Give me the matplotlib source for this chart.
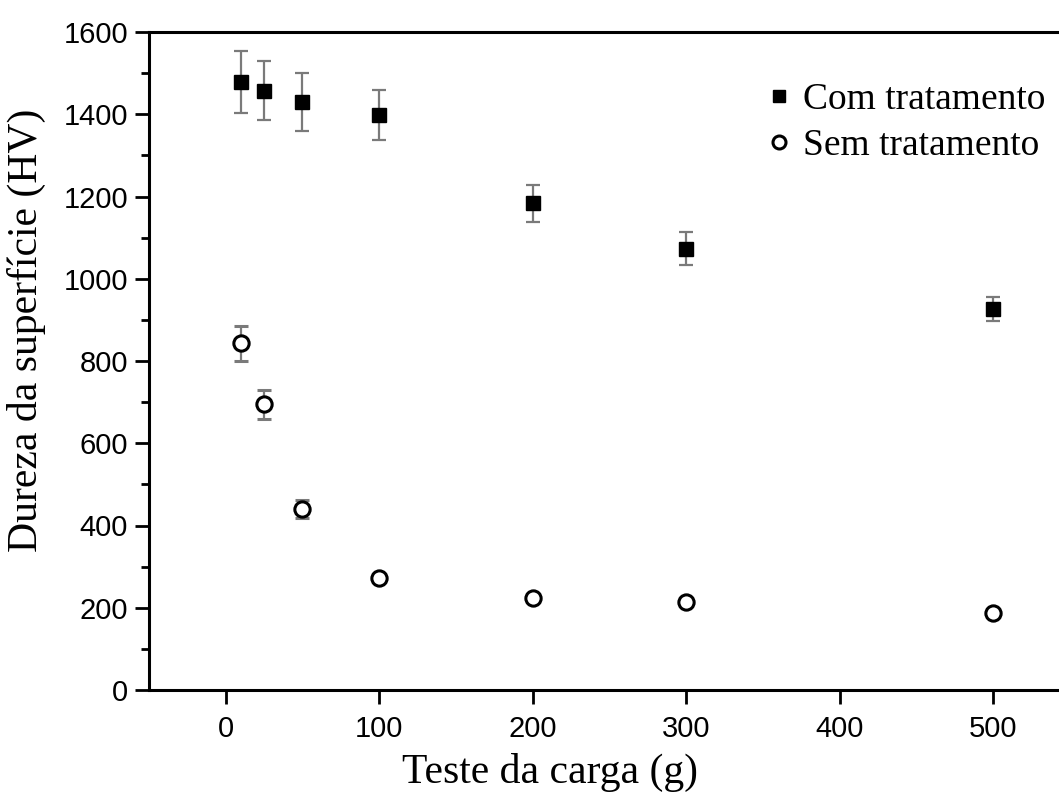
import matplotlib
matplotlib.use("Agg")
from matplotlib import pyplot as plt
from matplotlib.ticker import MultipleLocator

# load (g)
carga = [10, 25, 50, 100, 200, 300, 500]

# com tratamento
com_hv = [1479, 1457, 1430, 1398, 1183, 1073, 926]
com_err = [75, 72, 71, 61, 44, 40, 29]

# sem tratamento
sem_hv = [843, 695, 440, 273, 224, 213, 188]
sem_err = [42, 35, 22, 6, 5, 5, 5]

xticks = [0, 100, 200, 300, 400, 500]
yticks = [0, 200, 400, 600, 800, 1000, 1200, 1400, 1600]

serif = ["Liberation Serif", "DejaVu Serif"]
sans = ["Liberation Sans", "DejaVu Sans"]
err_gray = "#7a7a7a"

fig = plt.figure(figsize=(10.59, 7.96), dpi=100)
ax = fig.add_axes([149 / 1059, 106 / 796, 910 / 1059, 658 / 796])

ax.errorbar(carga, com_hv, yerr=com_err, fmt="s", color="black",
            markersize=10, ecolor=err_gray, elinewidth=1.6, capsize=5,
            capthick=1.6, label="Com tratamento", zorder=3)
ax.errorbar(carga, sem_hv, yerr=sem_err, fmt="o", color="black",
            markerfacecolor="white", markeredgewidth=2.2, markersize=11,
            ecolor=err_gray, elinewidth=1.6, capsize=5, capthick=1.6,
            label="Sem tratamento", zorder=3)

ax.set_xlim(-50, 543)
ax.set_ylim(0, 1600)
ax.set_xticks(xticks)
ax.set_yticks(yticks)
ax.yaxis.set_minor_locator(MultipleLocator(100))

ax.spines["right"].set_visible(False)
for s in ["left", "bottom", "top"]:
    ax.spines[s].set_linewidth(2.2)

ax.tick_params(axis="both", which="major", direction="out", length=10,
               width=2, labelsize=21, pad=5)
ax.tick_params(axis="x", which="major", pad=8)
ax.tick_params(axis="y", which="minor", direction="out", length=6, width=2)
for lab in ax.get_xticklabels() + ax.get_yticklabels():
    lab.set_family(sans)

ax.set_xlabel("Teste da carga (g)", fontsize=30, family=serif)
ax.xaxis.set_label_coords(0.4407, -0.095)
ax.set_ylabel("Dureza da superfície (HV)", fontsize=30, family=serif)
ax.yaxis.set_label_coords(-0.113, 0.547)

handles, labels = ax.get_legend_handles_labels()
handles = [h[0] for h in handles]
leg = fig.legend(handles, labels, loc="upper right",
                 bbox_to_anchor=(1064 / 1059, 1 - 64 / 796), frameon=False,
                 prop={"family": serif, "size": 27}, handlelength=0.6,
                 handletextpad=0.35, labelspacing=0.3, borderpad=0,
                 markerscale=0.85)

fig.savefig("out.png", dpi=100)
